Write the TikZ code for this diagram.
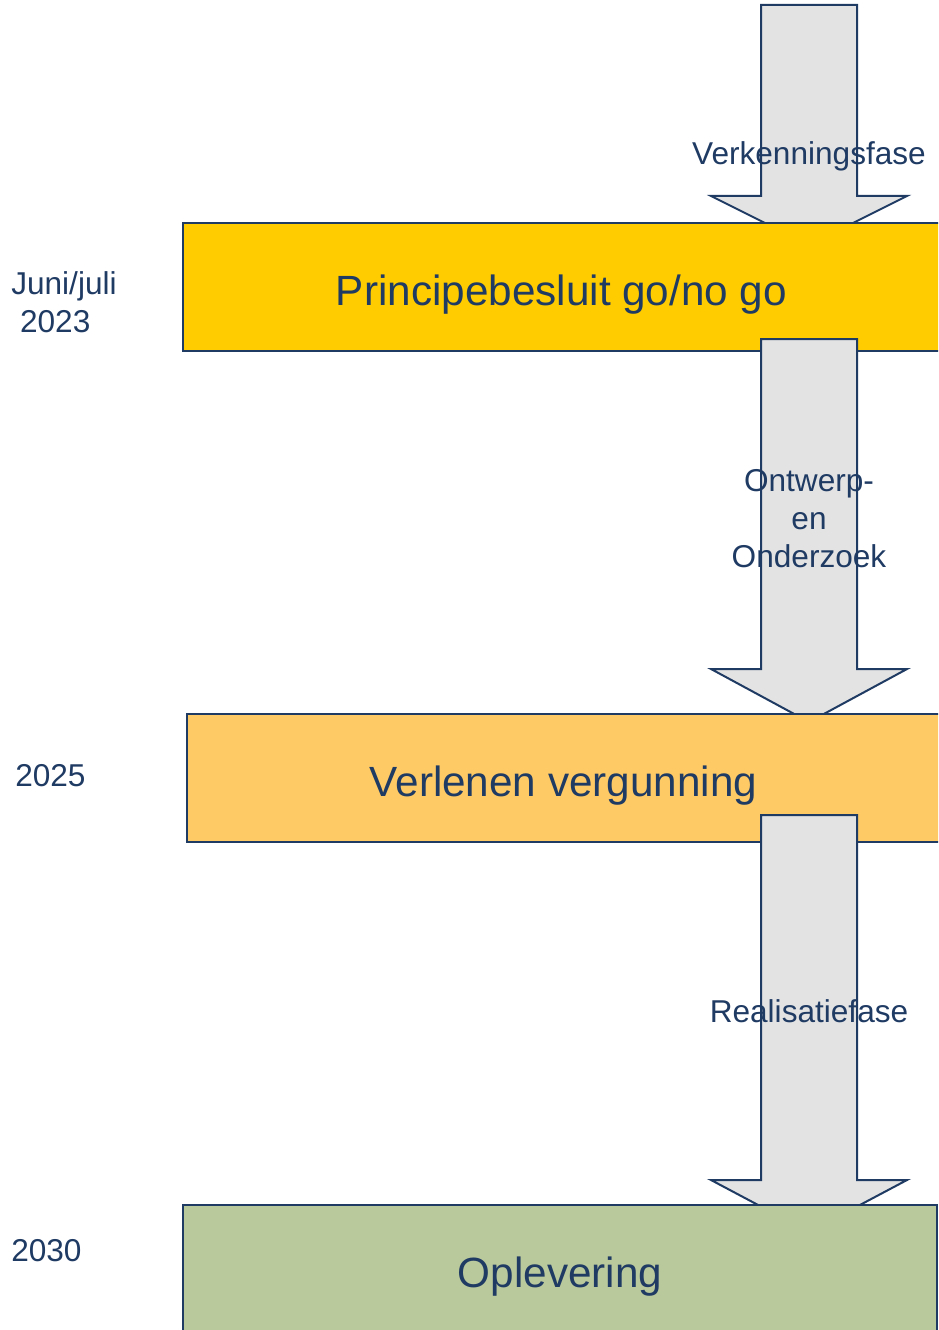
\documentclass[tikz,border=0pt]{standalone}
\usepackage{fontspec}
\setmainfont{Liberation Sans}
\usepackage{xcolor}

\definecolor{navytext}{RGB}{31,58,99}
\definecolor{arrowgrey}{RGB}{227,227,227}
\definecolor{goldbox}{RGB}{255,204,0}
\definecolor{sandbox}{RGB}{254,202,102}
\definecolor{sagebox}{RGB}{186,201,156}

\tikzset{
  phasearrow/.style={draw=navytext, fill=arrowgrey, line width=1.5pt, line join=miter},
  phasebox/.style={draw=navytext, line width=1.1pt, minimum height=96pt, inner sep=0pt,
    text height=27pt, text depth=0pt,
    text=navytext, font=\fontsize{31.7}{38}\selectfont},
  phaselabel/.style={inner sep=0pt, align=center, text=navytext, font=\fontsize{23.7}{28.5}\selectfont},
  datelabel/.style={inner sep=0pt, anchor=west, align=left, text=navytext, font=\fontsize{23.7}{28.5}\selectfont},
}

\begin{document}
\begin{tikzpicture}[x=0.75pt,y=0.75pt,yscale=-1,xscale=1]
\useasboundingbox (0,0) rectangle (938,1330);
\clip (0,0) rectangle (938,1330);

%Block Arrow [Verkenningsfase]
\draw [phasearrow] (761,5) -- (857,5) -- (857,196) -- (907,196) -- (809,245) -- (711,196) -- (761,196) -- cycle ;
% Text Node
\node [phaselabel] (verkenning) at (809,156) {Verkenningsfase};

%Shape: Rectangle
\node [phasebox, fill=goldbox, minimum width=567.75pt] (principe) at (561.5,287) {Principebesluit go/no go};

%Block Arrow [Ontwerp- en Onderzoek]
\draw [phasearrow] (761,339) -- (857,339) -- (857,669) -- (907,669) -- (809,722) -- (711,669) -- (761,669) -- cycle ;
% Text Node
\node [phaselabel] (ontwerp) at (809,519) {Ontwerp-\\en\\Onderzoek};

%Shape: Rectangle
\node [phasebox, fill=sandbox, minimum width=564.75pt] (vergunning) at (563.5,778) {Verlenen vergunning};

%Block Arrow [Realisatiefase]
\draw [phasearrow] (761,815) -- (857,815) -- (857,1180) -- (907,1180) -- (809,1232) -- (711,1180) -- (761,1180) -- cycle ;
% Text Node
\node [phaselabel] (realisatie) at (809,1011) {Realisatiefase};

%Shape: Rectangle
\node [phasebox, fill=sagebox, minimum width=565.5pt] (oplevering) at (560,1269) {Oplevering};

% Text Node
\node [datelabel] (datum2023) at (11,302) {Juni/juli\\~2023};
% Text Node
\node [datelabel] (datum2025) at (15,776) {2025};
% Text Node
\node [datelabel] (datum2030) at (11,1251) {2030};

\end{tikzpicture}
\end{document}
